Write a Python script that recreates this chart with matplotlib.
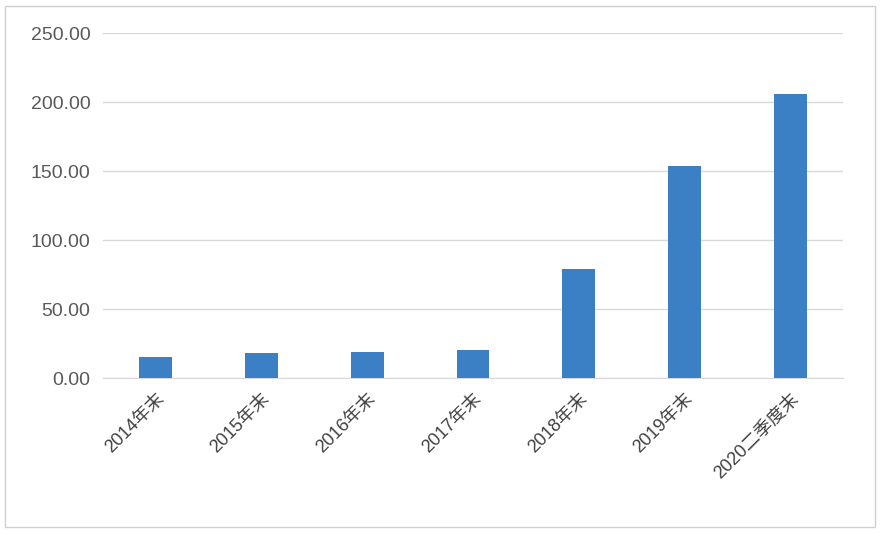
import matplotlib
matplotlib.use("Agg")
import matplotlib.pyplot as plt
from matplotlib.patches import Rectangle

plt.rcParams['font.family'] = ['Liberation Sans', 'Noto Sans CJK SC', 'DejaVu Sans']

categories = ['2014年末', '2015年末', '2016年末', '2017年末', '2018年末', '2019年末', '2020二季度末']
values = [15.2, 18.0, 19.0, 20.3, 79.0, 153.5, 206.0]
yticks = [0, 50, 100, 150, 200, 250]

fig = plt.figure(figsize=(8.8, 5.34), dpi=100)
fig.patches.append(Rectangle((0.006, 0.013), 0.988, 0.975, transform=fig.transFigure,
                             fill=False, edgecolor='#d0d0d0', linewidth=1))
ax = fig.add_axes([0.117, 0.292, 0.841, 0.646])
x = range(len(categories))
ax.bar(x, values, width=0.31, color='#3b80c4', zorder=3)
ax.set_xlim(-0.5, len(categories) - 0.5)
ax.set_ylim(0, 250)
ax.set_yticks(yticks)
ax.set_yticklabels([f'{v:.2f}' for v in yticks], fontsize=14, color='#595959')
ax.set_xticks(list(x))
ax.set_xticklabels(categories, rotation=45, ha='right', rotation_mode='anchor',
                   fontsize=13, color='#404040')
ax.grid(axis='y', color='#d9d9d9', linewidth=1, zorder=0)
for s in ['top', 'right', 'left']:
    ax.spines[s].set_visible(False)
ax.spines['bottom'].set_color('#d9d9d9')
ax.tick_params(length=0, pad=9)
fig.savefig('out.png', dpi=100)
